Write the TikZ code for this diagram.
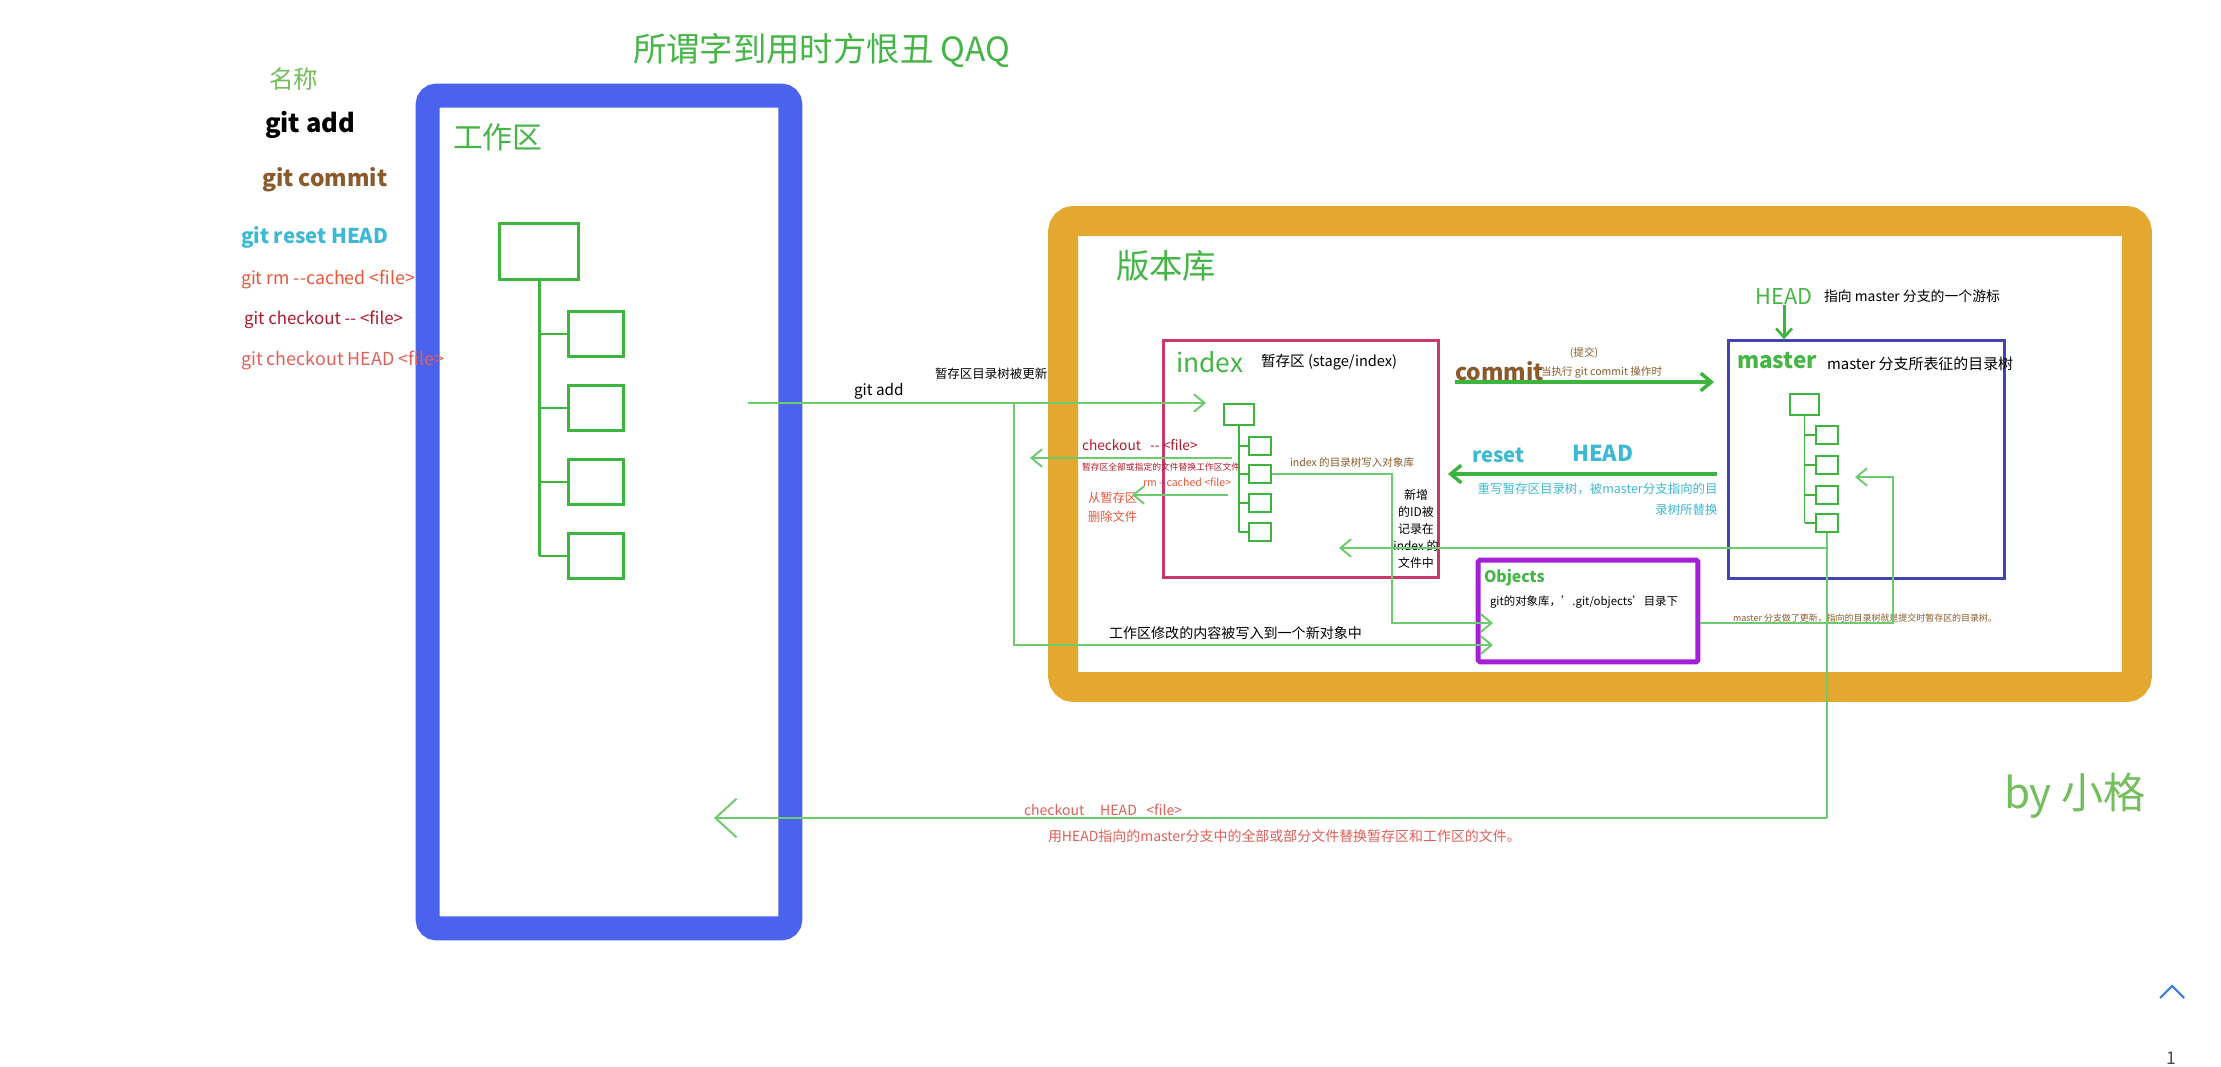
\documentclass[tikz,border=0pt]{standalone}
\usepackage{fontspec}
\setmainfont{Noto Sans CJK SC}
\usetikzlibrary{arrows.meta}
\definecolor{gtitle}{HTML}{45B545}
\definecolor{gtree}{HTML}{3DB43D}
\definecolor{gline}{HTML}{6CCB6C}
\definecolor{gname}{HTML}{74BE5C}
\definecolor{bluebox}{HTML}{4A62EE}
\definecolor{orangebox}{HTML}{E4A72F}
\definecolor{indexc}{HTML}{C8386C}
\definecolor{masterc}{HTML}{4444B0}
\definecolor{objc}{HTML}{A41FD6}
\definecolor{brownc}{HTML}{8B5A2B}
\definecolor{cyanc}{HTML}{3DB9D6}
\definecolor{rmc}{HTML}{E9573A}
\definecolor{coc}{HTML}{B2182B}
\definecolor{chc}{HTML}{E0605A}
\definecolor{uiblue}{HTML}{3B7DDD}
\newcommand{\myfs}[1]{\fontsize{#1pt}{#1pt}\selectfont}
\begin{document}
\begin{tikzpicture}[x=0.02cm,y=-0.02cm,
  lbl/.style={inner sep=0pt,outer sep=0pt,anchor=west},
  bigbox/.style={draw,inner sep=0pt,rounded corners=5pt},
  wbox/.style={draw=gtree,line width=1.7pt,inner sep=0pt},
  sbox/.style={draw=gtree,line width=1.1pt,inner sep=0pt},
  gthin/.style={draw=gline,line width=1.1pt},
  tipS/.style={-{Straight Barb[length=6pt,width=10pt,line width=1.1pt]}},
  tipL/.style={-{Straight Barb[length=12pt,width=22pt,line width=1.1pt]}},
  gthick/.style={draw=gtree,line width=2.3pt,-{Straight Barb[length=6pt,width=10pt,line width=2pt]}}
]
\useasboundingbox[fill=white] (0,0) rectangle (2221,1067);

% big frames
\node[bigbox,draw=bluebox,line width=13.6pt,minimum width=206.4pt,minimum height=474pt] (work) at (609,512) {};
\node[bigbox,draw=orangebox,line width=17pt,minimum width=611.1pt,minimum height=265.3pt,rounded corners=6pt] (repo) at (1600,454) {};
\node[draw=indexc,line width=1.7pt,inner sep=0pt,minimum width=156.5pt,minimum height=134.9pt] (index) at (1301,459) {};
\node[draw=masterc,line width=1.4pt,inner sep=0pt,minimum width=157pt,minimum height=135.5pt] (master) at (1866.5,459.5) {};
\node[draw=objc,line width=2.8pt,inner sep=0pt,minimum width=125pt,minimum height=58pt,rounded corners=1pt] (obj) at (1588,611) {};

% working tree
\node[wbox,minimum width=45.4pt,minimum height=32.3pt] (wtop) at (539,251.5) {};
\foreach \i/\y in {1/334,2/408,3/482,4/556}
  \node[wbox,minimum width=31.7pt,minimum height=26.1pt] (wc\i) at (596,\y) {};
\draw[gtree,line width=1.7pt] (wtop.south) -- (wtop.south |- wc4.west);
\foreach \i in {1,...,4}
  \draw[gtree,line width=1.7pt] (wtop.south |- wc\i.west) -- (wc\i.west);

% index tree
\node[sbox,minimum width=17pt,minimum height=11.9pt] (itop) at (1239,414.5) {};
\foreach \i/\y in {1/446,2/474,3/503,4/532}
  \node[sbox,minimum width=12.5pt,minimum height=10.2pt] (ic\i) at (1260,\y) {};
\draw[gtree,line width=1.1pt] (itop.south) -- (itop.south |- ic4.west);
\foreach \i in {1,...,4}
  \draw[gtree,line width=1.1pt] (itop.south |- ic\i.west) -- (ic\i.west);

% master tree
\node[sbox,minimum width=16.4pt,minimum height=11.9pt] (mtop) at (1804.5,404.5) {};
\foreach \i/\y in {1/435,2/465,3/495,4/523}
  \node[sbox,minimum width=12.5pt,minimum height=10.2pt] (mc\i) at (1827,\y) {};
\draw[gtree,line width=1.1pt] (mtop.south) -- (mtop.south |- mc4.west);
\foreach \i in {1,...,4}
  \draw[gtree,line width=1.1pt] (mtop.south |- mc\i.west) -- (mc\i.west);

% coordinates
\coordinate (gaS) at (748,403);
\coordinate (gaJ) at (1014,403);
\coordinate (gaT) at (1206,403);
\coordinate (objA) at (1493,623);
\coordinate (objB) at (1493,645);
\coordinate (ioJ) at (1392,623);
\coordinate (coS) at (1232,458);
\coordinate (coT) at (1030,458);
\coordinate (rmS) at (1228,495);
\coordinate (rmT) at (1132,495);
\coordinate (cmS) at (1455,382);
\coordinate (cmT) at (1714,382);
\coordinate (rsS) at (1717,474);
\coordinate (rsT) at (1448,474);
\coordinate (mJ) at (1827,548);
\coordinate (miT) at (1339,548);
\coordinate (chJ) at (1827,818);
\coordinate (chT) at (714,818);
\coordinate (omJ) at (1893,623);
\coordinate (omT) at (1855,477);

% texts
\node[lbl,text=gtitle,font=\myfs{19}] (title) at (633,50) {所谓字到用时方恨丑 QAQ};
\node[lbl,text=gname,font=\myfs{14}] (l0) at (269,79) {名称};
\node[lbl,font=\myfs{14.5}\bfseries] (l1) at (265,125) {git add};
\node[lbl,text=brownc,font=\myfs{13}\bfseries] (l2) at (262,180) {git commit};
\node[lbl,text=cyanc,font=\myfs{11.6}\bfseries] (l3) at (241,237) {git reset HEAD};
\node[lbl,text=rmc,font=\myfs{10.1}] (l4) at (241,280) {git rm -{}-cached <file>};
\node[lbl,text=coc,font=\myfs{9.6}] (l5) at (244,320) {git checkout -{}- <file>};
\node[lbl,text=chc,font=\myfs{10.2}] (l6) at (241,360) {git checkout HEAD <file>};

\node[lbl,text=gtitle,font=\myfs{17}] (wlab) at (453,137) {工作区};
\node[lbl,text=gtitle,font=\myfs{19}] (rlab) at (1116,266) {版本库};
\node[lbl,text=gtitle,font=\myfs{15}] (ilab) at (1176,362) {index};
\node[lbl,font=\myfs{8.3}] (idesc) at (1261,362) {暂存区 (stage/index)};
\node[lbl,text=brownc,font=\myfs{13}\bfseries] (cmlab) at (1455,371) {commit};
\node[text=brownc,font=\myfs{6},inner sep=0pt] (cmzh) at (1584,353) {(提交)};
\node[lbl,text=brownc,font=\myfs{6}] (cmdesc) at (1541,372) {当执行 git commit 操作时};
\node[text=gtitle,font=\myfs{12.4},inner sep=0pt] (headlbl) at (1784,297) {HEAD};
\node[lbl,font=\myfs{7.9}] (headdesc) at (1824,296) {指向 master 分支的一个游标};
\node[lbl,text=gtitle,font=\myfs{12.8}\bfseries] (mlab) at (1737,361) {master};
\node[lbl,font=\myfs{8.5}] (mdesc) at (1827,364) {master 分支所表征的目录树};
\node[lbl,font=\myfs{8.7}] (galab) at (854,391) {git add};
\node[lbl,font=\myfs{7.1}] (gadesc) at (935,374) {暂存区目录树被更新};
\node[lbl,text=coc,font=\myfs{7.8}] (colab) at (1082,445) {checkout\ \ \ -{}- <file>};
\node[lbl,text=coc,font=\myfs{5}] (codesc) at (1082,467) {暂存区全部或指定的文件替换工作区文件};
\node[lbl,text=rmc,font=\myfs{6}] (rmlab) at (1143,482) {rm -{}-cached <file>};
\node[lbl,text=rmc,font=\fontsize{7pt}{10.8pt}\selectfont,align=left] (rmdesc) at (1088,507) {从暂存区\\删除文件};
\node[lbl,text=brownc,font=\myfs{6}] (iodesc) at (1290,462) {index 的目录树写入对象库};
\node[font=\fontsize{6.8pt}{9.6pt}\selectfont,align=center,inner sep=0pt] (iddesc) at (1416,529) {新增\\的ID被\\记录在\\index 的\\文件中};
\node[lbl,text=cyanc,font=\myfs{11.5}\bfseries] (rslab) at (1472,455) {reset};
\node[lbl,text=cyanc,font=\myfs{12.5}\bfseries] (rshead) at (1572,453) {HEAD};
\node[anchor=east,inner sep=0pt,text=cyanc,font=\fontsize{7.1pt}{12pt}\selectfont,align=right] (rsdesc) at (1718,499) {重写暂存区目录树，被master分支指向的目\\录树所替换};
\node[lbl,text=gtitle,font=\myfs{9}\bfseries] (olab) at (1484,578) {Objects};
\node[lbl,font=\myfs{6.5}] (odesc) at (1490,602) {git的对象库，'.git/objects'目录下};
\node[lbl,font=\myfs{8}] (wodesc) at (1109,633) {工作区修改的内容被写入到一个新对象中};
\node[lbl,text=brownc,font=\myfs{5.1}] (omdesc) at (1733,618) {master 分支做了更新，指向的目录树就是提交时暂存区的目录树。};
\node[lbl,text=chc,font=\myfs{8}] (chlab) at (1024,810) {checkout\ \ \ \ \ HEAD\ \ \ <file>};
\node[lbl,text=chc,font=\myfs{7.95}] (chdesc) at (1048,836) {用HEAD指向的master分支中的全部或部分文件替换暂存区和工作区的文件。};
\node[lbl,text=gname,font=\myfs{24}] (by) at (2004,796) {by 小格};

% connectors
\draw[gthin,tipS] (gaS) -- (gaT);
\draw[gthin,tipS] (gaJ) |- (objB);
\draw[gthin,tipS] (ic2.east) -| (ioJ) -- (objA);
\draw[gthin,tipS] (coS) -- (coT);
\draw[gthin,tipS] (rmS) -- (rmT);
\draw[gthick] (cmS) -- (cmT);
\draw[gthick] (rsS) -- (rsT);
\draw[gtree,line width=1.7pt,-{Straight Barb[length=5pt,width=9pt,line width=1.5pt]}] (headlbl.south) -- (headlbl.south |- master.north);
\draw[gthin,tipS] (mJ) -- (miT);
\draw[gthin] (mc4.south) -- (chJ);
\draw[gthin,tipL] (chJ) -- (chT);
\draw[gthin,tipS] (obj.east |- omJ) -- (omJ) |- (omT);

% page widgets
\draw[uiblue,line width=1.2pt] (2160,998) -- (2172,986) -- (2184,998);
\node[text=black!70,font=\myfs{10},inner sep=0pt] (pg) at (2171,1058) {1};
\end{tikzpicture}
\end{document}
